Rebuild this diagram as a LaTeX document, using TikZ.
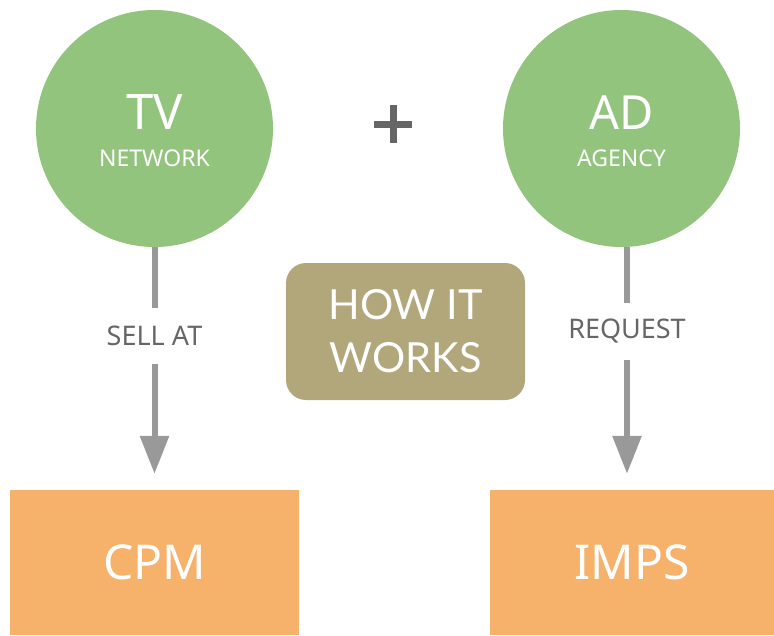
\documentclass[tikz,border=0pt]{standalone}
\usepackage{fontspec}
\setmainfont{Noto Sans}
\newfontfamily\howfont{Lato}
\usetikzlibrary{arrows.meta}
\definecolor{cgreen}{HTML}{93C47D}
\definecolor{corange}{HTML}{F6B26B}
\definecolor{cbox}{HTML}{B2A77B}
\definecolor{carrow}{HTML}{999999}
\definecolor{ctext}{HTML}{666666}
\tikzset{
  actor/.style={circle, fill=cgreen, minimum size=237pt, inner sep=0pt, text=white, align=center},
  result/.style={rectangle, fill=corange, minimum height=145pt, inner sep=0pt, text=white, font=\fontsize{48}{50}\selectfont},
  lbl/.style={text=ctext, font=\fontsize{27}{30}\selectfont, minimum height=56pt, inner sep=0pt},
  conn/.style={draw=carrow, line width=6pt},
  arr/.style={conn, -{Triangle[width=28pt,length=38pt]}, shorten >=16pt},
}
\begin{document}
\begin{tikzpicture}[x=1pt,y=-1pt]
\useasboundingbox (0,0) rectangle (774,635);
\node[actor] (tv) at (154.5,128.5) {\rule{0pt}{39pt}\fontsize{49}{52}\selectfont TV\\[19pt]\fontsize{23}{24}\selectfont NETWORK};
\node[actor] (ad) at (621.5,128.5) {\rule{0pt}{39pt}\fontsize{47}{52}\selectfont AD\\[19pt]\fontsize{23}{24}\selectfont AGENCY};
\fill[ctext] (374,121) rectangle (412,128);
\fill[ctext] (389.5,105) rectangle (396.5,143);
\node[rectangle, rounded corners=20pt, fill=cbox, minimum width=239pt, minimum height=137pt, text=white, align=center, font=\howfont\fontsize{41.5}{53}\selectfont] (how) at (405.5,331.5) {HOW IT\\WORKS};
\node[result, minimum width=289pt] (cpm) at (154.5,562.5) {CPM};
\node[result, minimum width=284pt] (imps) at (632,562.5) {IMPS};
\node[lbl] (sell) at (154.5,336) {SELL AT};
\node[lbl] (req) at (627,331.5) {REQUEST};
\draw[conn] (tv.south) -- (sell.north);
\draw[arr] (sell.south) -- (cpm.north);
\draw[conn] (ad.south -| req.north) -- (req.north);
\draw[arr] (req.south) -- (req.south |- imps.north);
\end{tikzpicture}
\end{document}
